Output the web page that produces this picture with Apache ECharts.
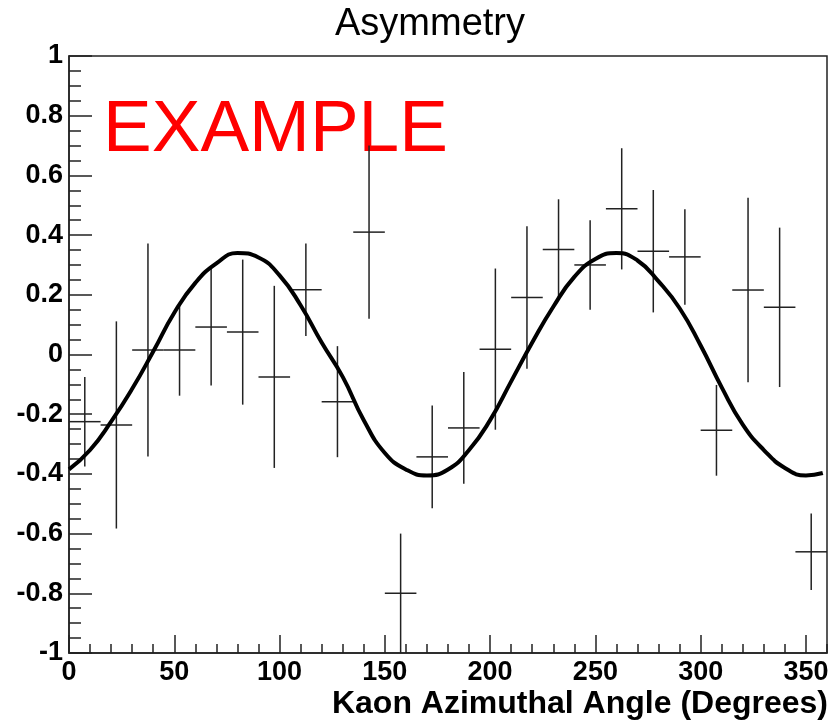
<!DOCTYPE html>
<html>
<head>
<meta charset="utf-8">
<script src="https://cdn.jsdelivr.net/npm/echarts@6/dist/echarts.min.js"></script>
<style>
  html, body { margin: 0; padding: 0; background: #fff; }
  #main { width: 834px; height: 725px; }
</style>
</head>
<body>
<div id="main"></div>
<script>
// bin centres (degrees), measured asymmetry and its error
var binCenters = [7.5, 22.5, 37.5, 52.5, 67.5, 82.5, 97.5, 112.5, 127.5, 142.5, 157.5, 172.5,
                  187.5, 202.5, 217.5, 232.5, 247.5, 262.5, 277.5, 292.5, 307.5, 322.5, 337.5, 352.5];
var asymValues = [-0.225, -0.236, 0.015, 0.015, 0.092, 0.075, -0.075, 0.217, -0.158, 0.41, -0.80, -0.343,
                  -0.246, 0.018, 0.191, 0.352, 0.30, 0.488, 0.346, 0.327, -0.254, 0.216, 0.158, -0.661];
var asymErrors = [0.15, 0.347, 0.357, 0.153, 0.196, 0.243, 0.305, 0.155, 0.186, 0.29, 0.20, 0.172,
                  0.187, 0.27, 0.239, 0.168, 0.15, 0.203, 0.205, 0.16, 0.152, 0.309, 0.267, 0.128];
var binWidth = 15;

// fit curve
var fitAngles = [0, 10, 20, 30, 40, 50, 60, 70, 80, 90, 100, 110, 120, 130, 140, 150, 160, 170, 180,
                 190, 200, 210, 220, 230, 240, 250, 260, 270, 280, 290, 300, 310, 320, 330, 340, 350, 358];
var fitValues = [-0.385, -0.32, -0.225, -0.115, 0.01, 0.14, 0.24, 0.305, 0.34, 0.325, 0.265, 0.165, 0.04,
                 -0.075, -0.22, -0.33, -0.385, -0.405, -0.385, -0.32, -0.22, -0.09, 0.04, 0.16, 0.26,
                 0.32, 0.34, 0.315, 0.245, 0.155, 0.03, -0.11, -0.235, -0.32, -0.38, -0.405, -0.397];

var points = [];
for (var i = 0; i < binCenters.length; i++) {
    points.push([binCenters[i], asymValues[i], asymErrors[i]]);
}
var fit = [];
for (var j = 0; j < fitAngles.length; j++) {
    fit.push([fitAngles[j], fitValues[j]]);
}

var myChart = echarts.init(document.getElementById('main'));

var lineCol = '#222';
var labelFont = {
    color: '#000',
    fontFamily: 'Liberation Sans',
    fontWeight: 'bold',
    fontSize: 27
};

function renderCross(params, api) {
    var x = api.value(0), y = api.value(1), e = api.value(2);
    var l = api.coord([x - binWidth / 2, y]);
    var r = api.coord([x + binWidth / 2, y]);
    var t = api.coord([x, y + e]);
    var b = api.coord([x, y - e]);
    var st = { stroke: lineCol, lineWidth: 1.5 };
    return {
        type: 'group',
        children: [
            { type: 'line', shape: { x1: l[0], y1: l[1], x2: r[0], y2: r[1] }, style: st },
            { type: 'line', shape: { x1: t[0], y1: t[1], x2: b[0], y2: b[1] }, style: st }
        ]
    };
}

var option = {
    animation: false,
    title: {
        text: 'Asymmetry',
        left: 330,
        top: 1,
        textStyle: {
            fontFamily: 'Liberation Sans',
            fontWeight: 'normal',
            fontSize: 38,
            color: '#000'
        }
    },
    graphic: [
        {
            type: 'text',
            left: 103,
            top: 94,
            style: {
                text: 'EXAMPLE',
                font: '73px "Liberation Sans"',
                fill: '#ff0000'
            }
        },
        {
            // x axis title, right aligned under the axis end
            type: 'text',
            right: 6,
            top: 688,
            style: {
                text: 'Kaon Azimuthal Angle (Degrees)',
                font: 'bold 32px "Liberation Sans"',
                fill: '#000'
            }
        }
    ],
    grid: {
        left: 69,
        right: 7,
        top: 56,
        bottom: 72,
        outerBoundsMode: 'none',
        containLabel: false,
        show: true,
        borderColor: lineCol,
        borderWidth: 1.5,
        backgroundColor: 'transparent'
    },
    xAxis: [
        {
            type: 'value',
            min: 0,
            max: 360,
            interval: 50,
            position: 'bottom',
            axisLine: { onZero: false, lineStyle: { color: lineCol, width: 1.5 } },
            axisTick: { inside: true, length: 18, lineStyle: { color: lineCol, width: 1.5 } },
            axisLabel: Object.assign({ showMaxLabel: false, margin: 6 }, labelFont),
            splitLine: { show: false }
        },
        {
            type: 'value',
            min: 0,
            max: 360,
            interval: 10,
            position: 'bottom',
            axisLine: { show: false, onZero: false },
            axisTick: { inside: true, length: 9, lineStyle: { color: lineCol, width: 1.5 } },
            axisLabel: { show: false },
            splitLine: { show: false }
        }
    ],
    yAxis: {
        type: 'value',
        min: -1,
        max: 1,
        interval: 0.2,
        axisLine: { show: true, onZero: false, lineStyle: { color: lineCol, width: 1.5 } },
        axisTick: { inside: true, length: 23, lineStyle: { color: lineCol, width: 1.5 } },
        minorTick: { show: true, splitNumber: 4, length: 12, lineStyle: { color: lineCol, width: 1.5 } },
        axisLabel: Object.assign({ margin: 6 }, labelFont),
        splitLine: { show: false }
    },
    series: [
        {
            name: 'data',
            type: 'custom',
            xAxisIndex: 0,
            clip: true,
            renderItem: renderCross,
            data: points,
            z: 2
        },
        {
            name: 'fit',
            type: 'line',
            xAxisIndex: 0,
            smooth: 0.5,
            showSymbol: false,
            lineStyle: { color: '#000', width: 4 },
            data: fit,
            z: 3
        }
    ]
};

myChart.setOption(option);

window.onresize = function () {
    myChart.resize();
};
</script>
</body>
</html>
